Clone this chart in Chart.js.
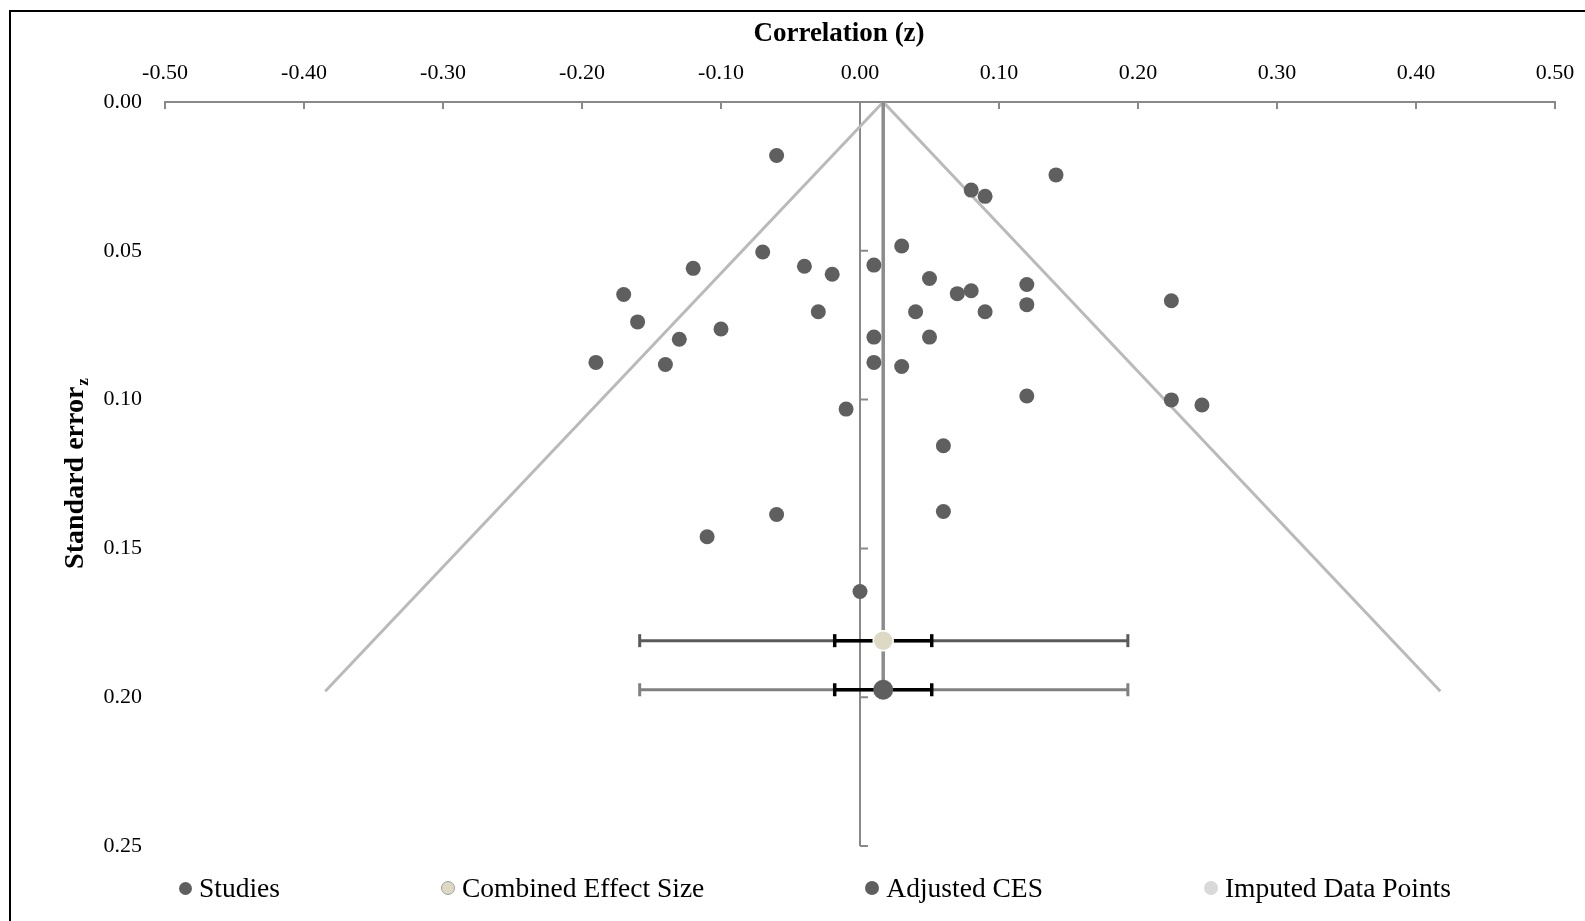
<!DOCTYPE html>
<html><head><meta charset="utf-8">
<script src="https://cdn.jsdelivr.net/npm/chart.js@4.4.0/dist/chart.umd.min.js"></script>
<style>
html,body{margin:0;padding:0;background:#fff;}
#wrap{position:relative;width:1585px;height:921px;overflow:hidden;}
#frame{position:absolute;left:9px;top:10px;width:1700px;height:1100px;border-left:2px solid #000;border-top:2px solid #000;pointer-events:none;}
canvas{position:absolute;left:0;top:0;}
#legend{position:absolute;left:179px;top:872px;display:flex;align-items:center;font-family:"Liberation Serif",serif;font-size:27.5px;line-height:32px;color:#000;white-space:nowrap;}
.item{display:flex;align-items:center;margin-right:161px;}
.mk{width:13px;height:13px;border-radius:50%;margin-right:7px;box-sizing:border-box;}
</style></head>
<body>
<div id="wrap">
<canvas id="c" width="1585" height="921"></canvas>
<div id="frame"></div>
<div id="legend"></div>
</div>
<script>
// ---- data ----
const studyZ  = [-0.06, 0.141, 0.08, 0.09, -0.07, 0.03, -0.12, -0.04, -0.02, 0.01, 0.05, 0.12, -0.17, 0.07, 0.08, 0.224, -0.16, -0.03, 0.04, 0.09, 0.12, -0.10, -0.13, 0.01, 0.05, -0.19, -0.14, 0.01, 0.03, 0.12, 0.224, 0.246, -0.01, 0.06, 0.06, -0.06, -0.11, 0.00];
const studySE = [0.018, 0.0245, 0.0296, 0.0317, 0.0504, 0.0484, 0.0559, 0.0552, 0.0579, 0.0548, 0.0593, 0.0613, 0.0647, 0.0644, 0.0634, 0.0668, 0.0739, 0.0705, 0.0705, 0.0705, 0.0681, 0.0763, 0.0797, 0.079, 0.079, 0.0875, 0.0882, 0.0875, 0.0889, 0.0988, 0.1001, 0.1018, 0.1032, 0.1155, 0.1376, 0.1386, 0.1461, 0.1645];
const imputedZ = [];
const imputedSE = [];
const cesZ = 0.0167;          // combined effect size
const cesRowSE = 0.181;       // row where it is shown
const cesInner = [-0.0182, 0.0516];
const cesOuter = [-0.1585, 0.1927];
const adjZ = 0.0167;          // adjusted CES
const adjRowSE = 0.1975;
const adjInner = [-0.0182, 0.0516];
const adjOuter = [-0.1585, 0.1927];
const funnelZ  = [-0.3847, 0.0167, 0.4175];
const funnelSE = [0.198, 0, 0.198];
const xTickValues = [-0.5, -0.4, -0.3, -0.2, -0.1, 0, 0.1, 0.2, 0.3, 0.4, 0.5];
const xTickLabels = ['-0.50','-0.40','-0.30','-0.20','-0.10','0.00','0.10','0.20','0.30','0.40','0.50'];
const yTickValues = [0, 0.05, 0.1, 0.15, 0.2, 0.25];
const yTickLabels = ['0.00','0.05','0.10','0.15','0.20','0.25'];
const xTitle = 'Correlation (z)';
const yTitle = 'Standard error';
const yTitleSub = 'z';

const FONT = '"Liberation Serif", serif';
const AXIS_GREY = '#898989';

const pts = (xs, ys) => xs.map((v, i) => ({x: v, y: ys[i]}));
const bar = (range, row) => [{x: range[0], y: row}, {x: range[1], y: row}];

const axisDecor = {
  id: 'axisDecor',
  beforeDatasetsDraw(chart) {
    const {ctx, scales: {x, y}} = chart;
    ctx.save();
    ctx.strokeStyle = AXIS_GREY;
    ctx.lineWidth = 2;
    const x0 = x.getPixelForValue(0);
    ctx.beginPath();
    ctx.moveTo(x0, y.getPixelForValue(yTickValues[0]));
    ctx.lineTo(x0, y.getPixelForValue(yTickValues[yTickValues.length - 1]));
    yTickValues.forEach(v => {
      if (v === 0) return;
      const py = y.getPixelForValue(v);
      ctx.moveTo(x0, py); ctx.lineTo(x0 + 8, py);
    });
    const top = y.getPixelForValue(0);
    xTickValues.forEach(v => {
      const px = x.getPixelForValue(v);
      ctx.moveTo(px, top); ctx.lineTo(px, top + 7);
    });
    ctx.stroke();
    ctx.restore();
  },
  afterDraw(chart) {
    const {ctx, chartArea} = chart;
    ctx.save();
    ctx.fillStyle = '#000';
    // x axis title (sits slightly left of the plot centre, as in the original)
    ctx.font = 'bold 27px ' + FONT;
    ctx.textAlign = 'center';
    ctx.textBaseline = 'middle';
    ctx.fillText(xTitle, 839, 34);
    // y axis title with subscript
    const cx = 76, cy = (chartArea.top + chartArea.bottom) / 2;
    ctx.translate(cx, cy);
    ctx.rotate(-Math.PI / 2);
    ctx.textAlign = 'left';
    ctx.font = 'bold 28px ' + FONT;
    const w1 = ctx.measureText(yTitle).width;
    ctx.font = 'bold 17px ' + FONT;
    const w2 = ctx.measureText(yTitleSub).width;
    const start = -(w1 + w2) / 2;
    ctx.font = 'bold 28px ' + FONT;
    ctx.fillText(yTitle, start, 0);
    ctx.font = 'bold 17px ' + FONT;
    ctx.fillText(yTitleSub, start + w1 + 1, 8);
    ctx.restore();
  }
};

const capStyle = (color, width) => ({
  showLine: true, borderColor: color, borderWidth: width,
  pointStyle: 'line', rotation: 90, pointRadius: 6.5,
  pointBorderColor: color, pointBorderWidth: width, pointBackgroundColor: color
});

const chart = new Chart(document.getElementById('c'), {
  type: 'scatter',
  data: {
    datasets: [
      {label: 'Studies', data: pts(studyZ, studySE), backgroundColor: '#5f5f5f', borderColor: '#5f5f5f', borderWidth: 0, pointRadius: 7.5, order: 1},
      {label: 'Combined Effect Size', data: [{x: cesZ, y: cesRowSE}], backgroundColor: '#ddd9c3', borderColor: '#ffffff', borderWidth: 1.5, pointRadius: 10, order: 0},
      {label: 'Adjusted CES', data: [{x: adjZ, y: adjRowSE}], backgroundColor: '#5f5f5f', borderColor: '#5f5f5f', borderWidth: 0, pointRadius: 10, order: 0},
      {label: 'Imputed Data Points', data: pts(imputedZ, imputedSE), backgroundColor: '#d9d9d9', borderColor: '#d9d9d9', pointRadius: 7.5, order: 0},
      {label: 'Funnel', data: pts(funnelZ, funnelSE), showLine: true, borderColor: '#bababa', borderWidth: 3, pointRadius: 0, order: 7},
      {label: 'CES line', data: [{x: cesZ, y: 0}, {x: cesZ, y: adjRowSE}], showLine: true, borderColor: '#8c8c8c', borderWidth: 3.5, pointRadius: 0, order: 6},
      Object.assign({label: 'CES outer', data: bar(cesOuter, cesRowSE), order: 5}, capStyle('#5a5a5a', 3)),
      Object.assign({label: 'CES inner', data: bar(cesInner, cesRowSE), order: 4}, capStyle('#000000', 3.5)),
      Object.assign({label: 'Adjusted outer', data: bar(adjOuter, adjRowSE), order: 5}, capStyle('#808080', 3)),
      Object.assign({label: 'Adjusted inner', data: bar(adjInner, adjRowSE), order: 4}, capStyle('#000000', 3.5))
    ]
  },
  options: {
    responsive: false,
    animation: false,
    layout: {padding: {left: 0, right: 30, top: 0, bottom: 75}},
    plugins: {legend: {display: false}, tooltip: {enabled: false}},
    scales: {
      x: {
        type: 'linear', position: 'top', min: -0.5, max: 0.5,
        afterBuildTicks: s => { s.ticks = xTickValues.map(v => ({value: v})); },
        afterFit: s => { s.height = 102; s.paddingLeft = 0; s.paddingRight = 0; },
        ticks: {callback: (v, i) => xTickLabels[i], font: {family: FONT, size: 22}, color: '#000', padding: 16, maxRotation: 0, autoSkip: false},
        grid: {display: false, drawTicks: false},
        border: {display: true, color: AXIS_GREY, width: 2},
        title: {display: false}
      },
      y: {
        type: 'linear', position: 'left', reverse: true, min: 0, max: 0.25,
        afterBuildTicks: s => { s.ticks = yTickValues.map(v => ({value: v})); },
        afterFit: s => { s.width = 165; s.paddingTop = 0; s.paddingBottom = 0; },
        ticks: {callback: (v, i) => yTickLabels[i], font: {family: FONT, size: 22}, color: '#000', padding: 23, autoSkip: false},
        grid: {display: false, drawTicks: false},
        border: {display: false}
      }
    }
  },
  plugins: [axisDecor]
});

// HTML legend built from the first four datasets
const legendEl = document.getElementById('legend');
const mkBorder = ['none', '1px solid #a0a0a0', 'none', 'none'];
const mkSize = [13, 14, 14, 14];
chart.data.datasets.slice(0, 4).forEach((ds, i) => {
  const item = document.createElement('div');
  item.className = 'item';
  if (i === 3) item.style.marginRight = '0';
  const mk = document.createElement('span');
  mk.className = 'mk';
  mk.style.background = ds.backgroundColor;
  mk.style.border = mkBorder[i];
  mk.style.width = mk.style.height = mkSize[i] + 'px';
  const tx = document.createElement('span');
  tx.textContent = ds.label;
  item.appendChild(mk); item.appendChild(tx);
  legendEl.appendChild(item);
});
</script>
</body></html>
